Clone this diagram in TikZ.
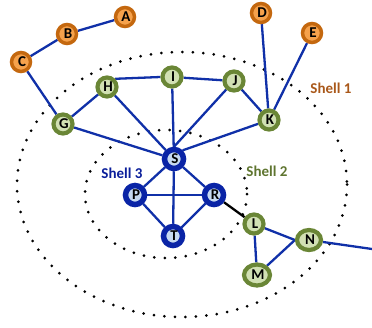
\documentclass[tikz,border=0pt]{standalone}
\usepackage{fontspec}
\setmainfont{Carlito}
\usetikzlibrary{backgrounds,shapes.geometric}

\definecolor{ringO}{HTML}{C4680F}
\definecolor{fillO}{HTML}{F6A24C}
\definecolor{ringG}{HTML}{6A8636}
\definecolor{fillG}{HTML}{D1E0B3}
\definecolor{ringB}{HTML}{0A24A6}
\definecolor{fillB}{HTML}{C6D9F1}
\definecolor{edgeB}{HTML}{1030A8}
\definecolor{shellO}{HTML}{A9581A}
\definecolor{shellG}{HTML}{5F7530}
\definecolor{shellB}{HTML}{0A1E9A}

% letter set a little right of and below the node centre
\newcommand{\vlet}[1]{\makebox[0pt]{\hspace{2pt}\raisebox{-1pt}{#1}}}

\begin{document}
\begin{tikzpicture}[x=1pt,y=-1pt,
  vtx/.style={circle,minimum size=19pt,inner sep=0pt,
    font=\bfseries\fontsize{15}{15}\selectfont},
  vtxO/.style={vtx,draw=ringO,fill=fillO,line width=3.5pt},
  vtxG/.style={vtx,draw=ringG,fill=fillG,line width=4.2pt},
  vtxGe/.style={vtxG,ellipse},
  vtxB/.style={vtx,draw=ringB,fill=fillB,line width=5.5pt},
  link/.style={draw=edgeB,line width=2.3pt},
  bridge/.style={draw=black,line width=2.3pt},
  shell/.style={draw=black,line width=3pt,line cap=round,
    dash pattern=on 0pt off 10.5pt},
  shelltext/.style={font=\bfseries\fontsize{15}{15}\selectfont}
]
\useasboundingbox (0,0) rectangle (372,327);

% outer layer
\node[vtxO] (A) at (125,17) {\vlet{A}};
\node[vtxO] (B) at (67,34) {\vlet{B}};
\node[vtxO] (C) at (21,62) {\vlet{C}};
\node[vtxO] (D) at (261,13) {\vlet{D}};
\node[vtxO] (E) at (312,33) {\vlet{E}};

% shell 1
\node[vtxG] (G) at (63,124) {\vlet{G}};
\node[vtxG] (H) at (107,87) {\vlet{H}};
\node[vtxG] (I) at (172,77) {\vlet{I}};
\node[vtxG] (J) at (234,81) {\vlet{J}};
\node[vtxG] (K) at (269,120) {\vlet{K}};
\node[vtxG] (L) at (254,224) {\vlet{L}};
\node[vtxGe,minimum width=24pt,minimum height=20pt] (N) at (309,240) {\vlet{N}};
\node[vtxGe,minimum width=26pt,minimum height=21pt] (M) at (257,275) {\vlet{M}};

% shell 3 core
\node[vtxB] (S) at (174,159) {\vlet{S}};
\node[vtxB] (P) at (135,195) {\vlet{P}};
\node[vtxB] (R) at (214,195) {\vlet{R}};
\node[vtxB] (T) at (173,236) {\vlet{T}};

\coordinate (out) at (372,249);

% shell labels
\node[shelltext,text=shellO] (s1) at (331,88) {Shell 1};
\node[shelltext,text=shellG] (s2) at (267,171) {Shell 2};
\node[shelltext,text=shellB] (s3) at (122,173) {Shell 3};

\begin{scope}[on background layer]
  \draw[shell] (182,184.5) ellipse [x radius=165, y radius=132.5];
  \draw[shell] (166,194) ellipse [x radius=81, y radius=64];

  \draw[link] (A) -- (B);
  \draw[link] (B) -- (C);
  \draw[link] (C) -- (G);
  \draw[link] (G) -- (H);
  \draw[link] (H.north east) -- (I.west);
  \draw[link] (I) -- (J);
  \draw[link] (J) -- (K);
  \draw[link] (D) -- (K);
  \draw[link] (E) -- (K);
  \draw[link] (G) -- (S);
  \draw[link] (H) -- (S);
  \draw[link] (I) -- (S);
  \draw[link] (J) -- (S.north);
  \draw[link] (K) -- (S.north east);

  \draw[link] (S) -- (P);
  \draw[link] (S) -- (R);
  \draw[link] (S) -- (T);
  \draw[link] (P) -- (R);
  \draw[link] (P) -- (T);
  \draw[link] (R) -- (T);

  \draw[bridge] (R) -- (L);
  \draw[link] (L) -- (M);
  \draw[link] (L) -- (N.west);
  \draw[link] (M) -- (N.west);
  \draw[link] (N) -- (out);
\end{scope}
\end{tikzpicture}
\end{document}
